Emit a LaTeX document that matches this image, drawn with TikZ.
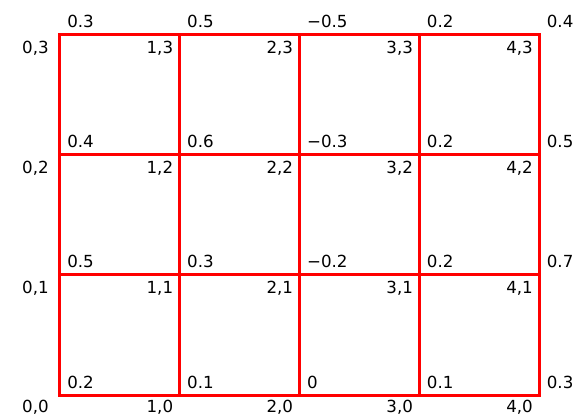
\documentclass[tikz,border=0pt]{standalone}
\usepackage{fontspec}
\setmainfont{DejaVu Sans}
\begin{document}
\begin{tikzpicture}[x=0.75pt,y=-0.75pt,
  gridline/.style={draw=red,line width=2.25pt,line cap=rect},
  val/.style={anchor=base west,inner sep=0pt,font=\fontsize{12.5pt}{14pt}\selectfont},
  idx/.style={anchor=base east,inner sep=0pt,font=\fontsize{12.5pt}{14pt}\selectfont}]
\useasboundingbox (0,0) rectangle (575,418);
\def\xa{59.5}\def\dx{119.9}\def\ya{34.5}\def\dy{120.2}
% grid
\foreach \i in {0,...,4} \draw[gridline] ({\xa+\i*\dx},\ya) -- ({\xa+\i*\dx},{\ya+3*\dy});
\foreach \j in {0,...,3} \draw[gridline] (\xa,{\ya+\j*\dy}) -- ({\xa+4*\dx},{\ya+\j*\dy});
% values above each horizontal line
\foreach \row [count=\j from 0] in {{0.3,0.5,−0.5,0.2,0.4},{0.4,0.6,−0.3,0.2,0.5},{0.5,0.3,−0.2,0.2,0.7},{0.2,0.1,0,0.1,0.3}}{
  \foreach \v [count=\i from 0] in \row
    \node[val] (v\i\j) at ({\xa+\i*\dx+7.5},{\ya+\j*\dy-7}) {\v};
}
% indices
\foreach \j/\n in {0/3,1/2,2/1}{
  \node[idx] (i0\n) at ({\xa-10.5},{\ya+\j*\dy+19}) {0,\n};
  \foreach \i in {1,...,4}
    \node[idx] (i\i\n) at ({\xa+\i*\dx-6},{\ya+\j*\dy+19}) {\i,\n};
}
\node[idx] (i00) at ({\xa-10.5},{\ya+3*\dy+17}) {0,0};
\foreach \i in {1,...,4}
  \node[idx] (i\i0) at ({\xa+\i*\dx-6},{\ya+3*\dy+17}) {\i,0};
\end{tikzpicture}
\end{document}
